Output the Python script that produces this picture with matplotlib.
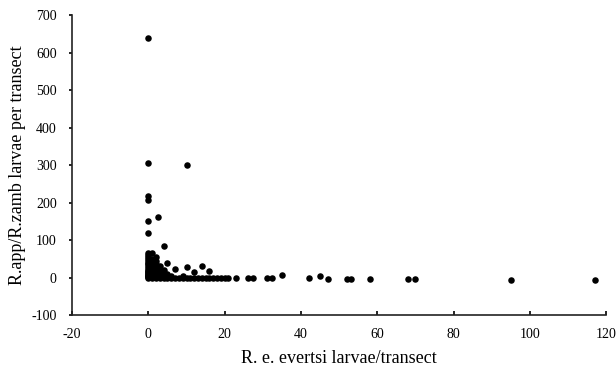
import matplotlib.pyplot as plt

# R. e. evertsi larvae per transect (x) vs R.app/R.zamb larvae per transect (y)
evertsi = [0, 0, 10, 0, 0, 2.5, 0, 0, 4, 0, 1,
           0, 0, 0, 0, 0, 0, 0, 0, 0, 0, 0, 0, 0, 0, 0, 0, 0, 0,
           1, 1, 1, 1, 1, 1, 1, 1, 1, 1,
           2, 2, 2, 2, 2, 2, 2, 2,
           3, 3, 3, 3, 3, 3,
           4, 4, 4, 4,
           5, 5, 5, 6, 6, 7, 7, 8, 9, 9, 10, 10, 11, 12, 12, 13, 14, 14,
           15, 16, 16, 17, 18, 19, 20, 21, 23, 26, 27.5, 31, 32.5, 35,
           42, 45, 47, 52, 53, 58, 68, 70, 95, 117]
rapp = [640, 305, 300, 218, 208, 162, 150, 120, 85, 65, 65,
        0, 2, 4, 5, 8, 10, 12, 15, 18, 20, 25, 30, 35, 40, 45, 50, 55, 60,
        0, 3, 6, 10, 15, 20, 25, 30, 40, 50,
        0, 5, 10, 18, 25, 35, 45, 55,
        0, 4, 8, 15, 22, 30,
        0, 5, 12, 20,
        0, 10, 38, 0, 3, 0, 22, 0, 0, 5, 0, 27, 0, 0, 15, 0, 0, 30,
        0, 0, 17, 0, 0, 0, 0, 0, 0, -2, -2, -2, 0, 8,
        0, 3, -3, -3, -3, -3, -3, -3, -6, -7]

plt.rcParams['font.family'] = ['Liberation Serif', 'DejaVu Serif']
plt.rcParams['axes.unicode_minus'] = False

fig = plt.figure(figsize=(6.16, 3.76), dpi=100)
ax = fig.add_axes([0.117, 0.162, 0.867, 0.798])

ax.scatter(evertsi, rapp, s=22, color='black', linewidths=0, zorder=3, clip_on=False)

ax.set_xlim(-20, 120)
ax.set_ylim(-100, 700)
ax.set_xticks(range(-20, 121, 20))
ax.set_yticks(range(-100, 701, 100))

for side in ['top', 'right']:
    ax.spines[side].set_visible(False)
for side in ['left', 'bottom']:
    ax.spines[side].set_linewidth(1.2)
    ax.spines[side].set_color('#222222')

ax.tick_params(axis='x', direction='in', length=3, width=1.2, pad=9, labelsize=10)
ax.tick_params(axis='y', direction='out', length=2, width=1.2, pad=9, labelsize=10)

ax.set_xlabel('R. e. evertsi larvae/transect', fontsize=13, labelpad=7)
ax.set_ylabel('R.app/R.zamb larvae per transect', fontsize=13, labelpad=4)

fig.savefig('out.png', dpi=100)
